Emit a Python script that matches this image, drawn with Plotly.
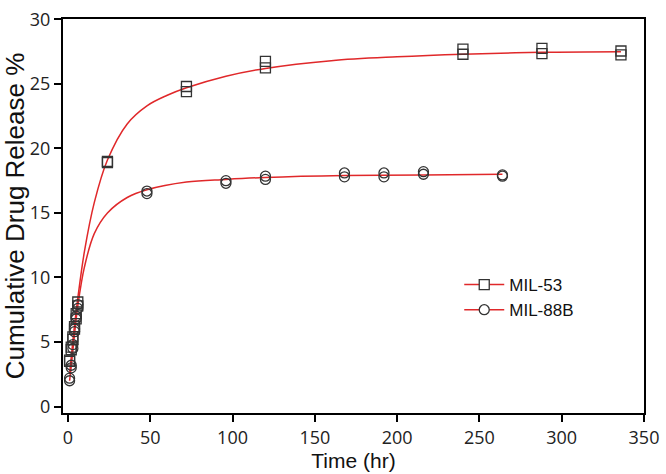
import plotly.graph_objects as go

# Measured data (duplicates at each time point)
t53 = [1, 1, 2, 2, 3, 3, 4, 4, 5, 5, 6, 6, 24, 24, 72, 72, 120, 120, 240, 240, 288, 288, 336, 336]
y53 = [3.5, 3.6, 4.4, 4.6, 5.2, 5.4, 6.0, 6.2, 6.8, 7.2, 7.8, 8.1, 18.9, 19.0, 24.4, 24.8,
       26.25, 26.75, 27.3, 27.7, 27.35, 27.75, 27.25, 27.55]

t88 = [1, 1, 2, 2, 3, 3, 4, 4, 5, 5, 6, 6, 48, 48, 96, 96, 120, 120, 168, 168, 192, 192, 216, 216, 264, 264]
y88 = [2.0, 2.2, 3.0, 3.2, 4.5, 4.8, 5.8, 6.0, 6.8, 7.0, 7.6, 7.9, 16.5, 16.7, 17.3, 17.5,
       17.6, 17.85, 17.8, 18.1, 17.8, 18.1, 18.0, 18.2, 17.85, 17.95]

# Fitted curves
ct53 = [1, 2, 4, 6, 10, 16, 24, 36, 48, 60, 72, 96, 120, 160, 200, 240, 288, 336]
cy53 = [2.5, 3.8, 6.3, 8.4, 12.0, 15.8, 19.1, 21.9, 23.3, 24.1, 24.7, 25.6, 26.2, 26.8, 27.1, 27.3, 27.45, 27.5]

ct88 = [1, 2, 4, 6, 10, 16, 24, 36, 48, 72, 96, 120, 168, 216, 264]
cy88 = [2.0, 3.1, 5.6, 7.8, 10.8, 13.4, 15.0, 16.2, 16.8, 17.4, 17.6, 17.75, 17.9, 17.95, 18.0]

names = ["MIL-53", "MIL-88B"]
x_ticks = [0, 50, 100, 150, 200, 250, 300, 350]
y_ticks = [0, 5, 10, 15, 20, 25, 30]

RED = "#e0282a"
MK = "#333333"

fig = go.Figure()
fig.add_trace(go.Scatter(x=ct53, y=cy53, mode="lines", line=dict(color=RED, width=1.5, shape="spline"),
                         showlegend=False, hoverinfo="skip"))
fig.add_trace(go.Scatter(x=ct88, y=cy88, mode="lines", line=dict(color=RED, width=1.5, shape="spline"),
                         showlegend=False, hoverinfo="skip"))
fig.add_trace(go.Scatter(x=t53, y=y53, mode="markers",
                         marker=dict(symbol="square-open", size=10, color=MK, line=dict(width=1.3)),
                         showlegend=False))
fig.add_trace(go.Scatter(x=t88, y=y88, mode="markers",
                         marker=dict(symbol="circle-open", size=10, color=MK, line=dict(width=1.3)),
                         showlegend=False))
# legend entries
fig.add_trace(go.Scatter(x=[None], y=[None], mode="lines+markers", name=names[0],
                         line=dict(color=RED, width=1.5),
                         marker=dict(symbol="square", size=10, color="white", line=dict(color=MK, width=1.3))))
fig.add_trace(go.Scatter(x=[None], y=[None], mode="lines+markers", name=names[1],
                         line=dict(color=RED, width=1.5),
                         marker=dict(symbol="circle", size=10, color="white", line=dict(color=MK, width=1.3))))

tickfont = dict(family="Open Sans, Noto Sans, sans-serif", size=18, color="#222222")
xtitlefont = dict(family="Liberation Sans, Arial, sans-serif", size=21, color="#111111")
ytitlefont = dict(family="Liberation Sans, Arial, sans-serif", size=26, color="#111111")

fig.update_layout(
    width=666, height=474,
    margin=dict(l=63, r=10, t=7, b=61),
    paper_bgcolor="white", plot_bgcolor="white",
    legend=dict(x=0.682, y=0.293, xanchor="left", yanchor="middle",
                font=dict(family="Liberation Sans, Arial, sans-serif", size=17, color="#111111"),
                bgcolor="rgba(0,0,0,0)", itemwidth=40, tracegroupgap=0),
    xaxis=dict(range=[-3, 350], tickvals=x_ticks, ticks="outside", ticklen=7, tickwidth=1.5,
               tickcolor="black", showline=True, linecolor="black", linewidth=2, mirror=True,
               showgrid=False, zeroline=False, tickfont=tickfont, ticklabeloverflow="allow",
               title=dict(text="Time (hr)", font=xtitlefont, standoff=4)),
    yaxis=dict(range=[-0.5, 30.03], tickvals=y_ticks, ticks="outside", ticklen=7, tickwidth=1.5,
               tickcolor="black", showline=True, linecolor="black", linewidth=2, mirror=True,
               showgrid=False, zeroline=False, tickfont=tickfont, ticklabeloverflow="allow",
               title=dict(text="Cumulative Drug Release %", font=ytitlefont, standoff=4)),
)

fig.write_html("out.html", config={"displayModeBar": False},
               post_script="document.body.style.margin='0';document.body.style.overflow='hidden';")
